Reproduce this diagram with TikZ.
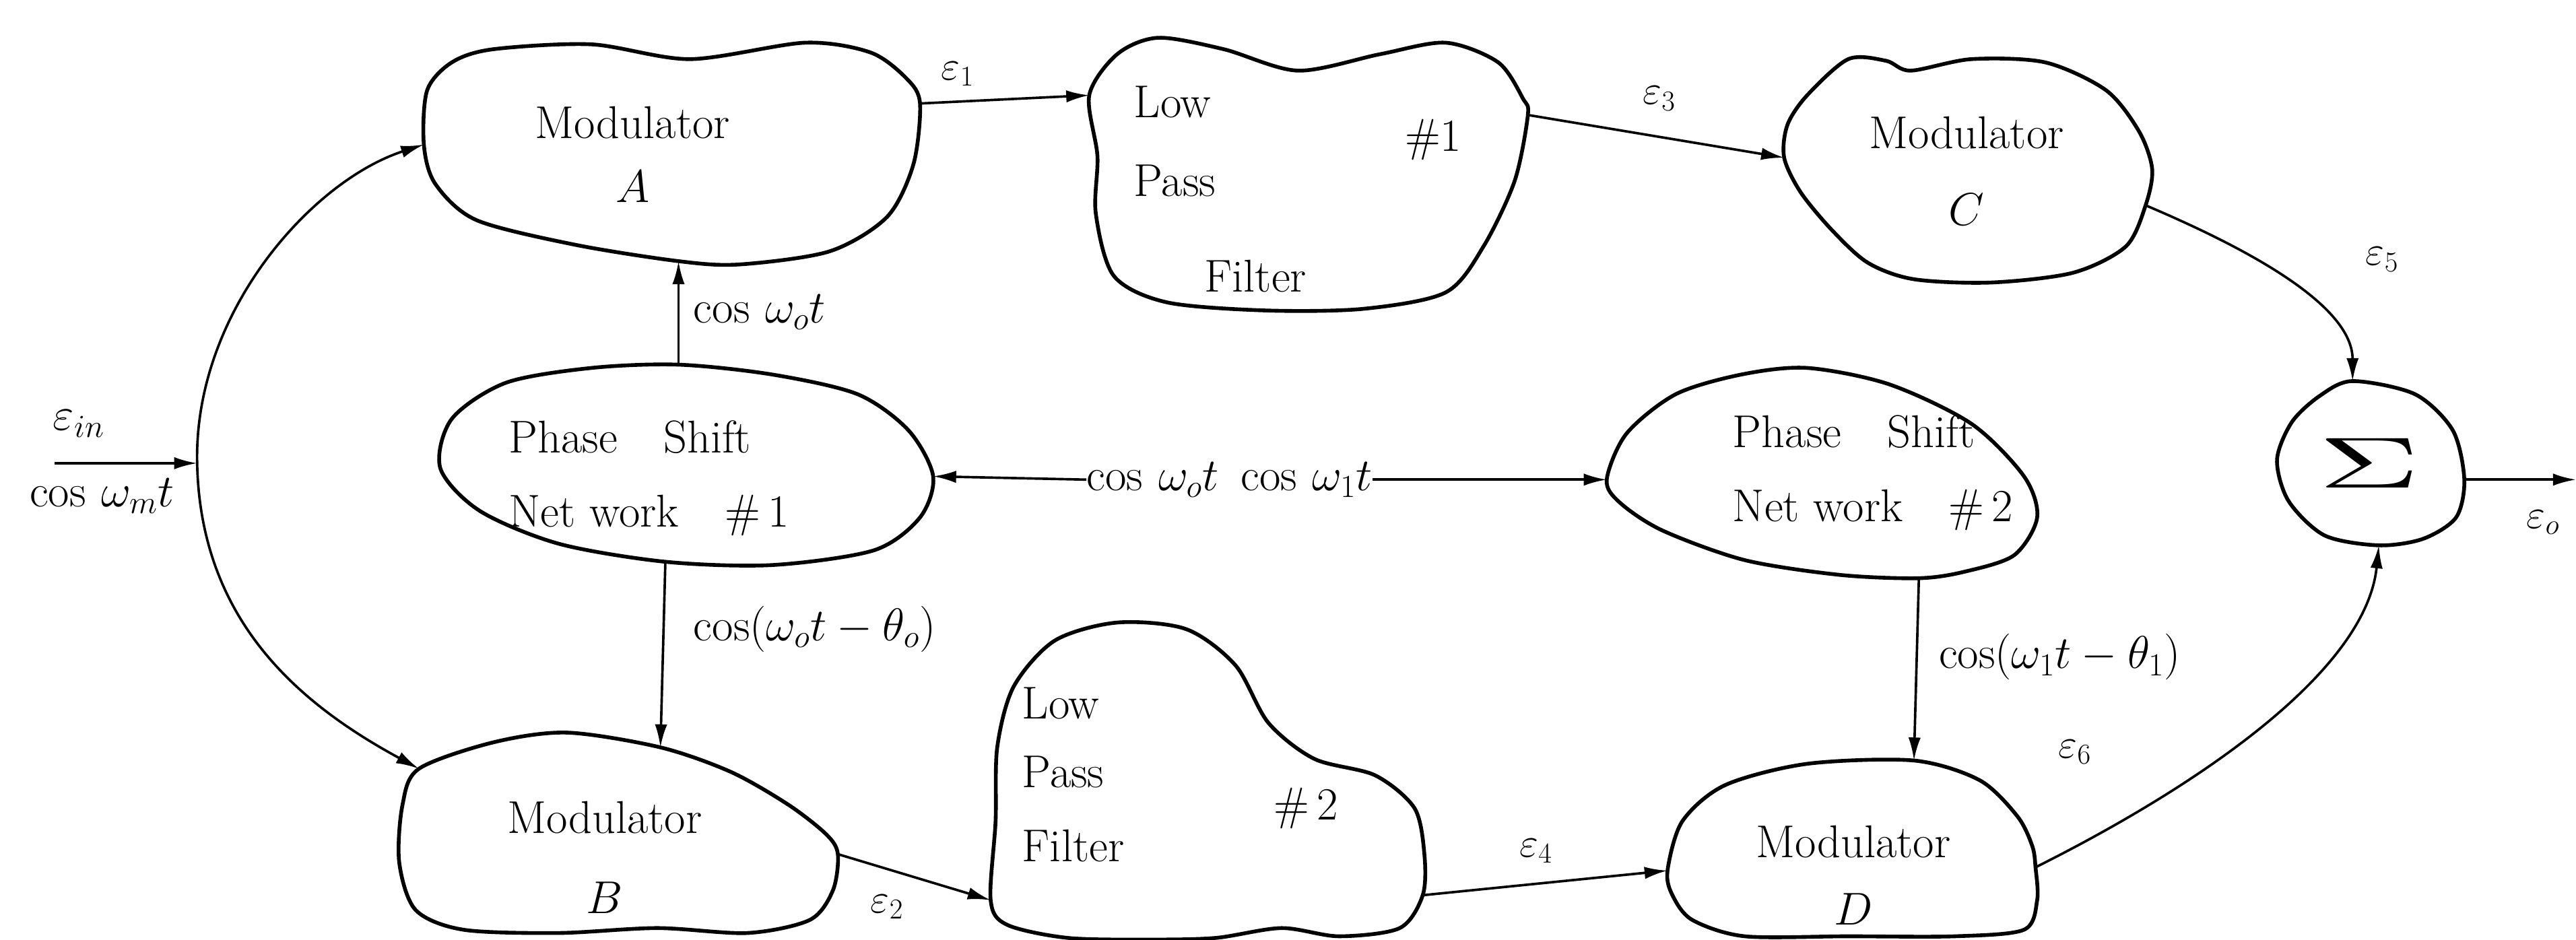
\RequirePackage{fix-cm}
\documentclass[tikz,border=0pt]{standalone}
\usepackage{graphicx}
\usepackage{fontspec}
\usetikzlibrary{arrows.meta}
\begin{document}
\begin{tikzpicture}[x=1pt,y=-1pt,
  blob/.style={line width=2.3pt, line join=round},
  conn/.style={line width=1.5pt, -{Latex[length=14pt,width=7.5pt]}},
  bt/.style={font=\fontsize{28}{37}\selectfont, inner sep=0pt},
  ml/.style={font=\fontsize{28}{32}\selectfont, inner sep=0pt},
  el/.style={font=\fontsize{25}{28}\selectfont, inner sep=0pt}]
\useasboundingbox (0,0) rectangle (1568,572);

% connection points
\coordinate (Aw) at (258,88);   \coordinate (Ae) at (560,63);   \coordinate (As) at (413,159);
\coordinate (LP1w) at (663,58); \coordinate (LP1e) at (930,70);
\coordinate (Cw) at (1086,96);  \coordinate (Ce) at (1306,125);
\coordinate (Sn) at (1432,232); \coordinate (Se) at (1500,292); \coordinate (Ss) at (1448,332);
\coordinate (PS1n) at (413,222); \coordinate (PS1e) at (568,290); \coordinate (PS1s) at (405,342);
\coordinate (PS2w) at (978,292); \coordinate (PS2s) at (1168,352);
\coordinate (Bw) at (255,468);  \coordinate (Bn) at (402,455);  \coordinate (Be) at (510,520);
\coordinate (LP2w) at (603,548); \coordinate (LP2e) at (866,545);
\coordinate (Dw) at (1015,530); \coordinate (Dn) at (1165,463); \coordinate (De) at (1239,528);
\coordinate (inS) at (33,282);  \coordinate (J) at (120,282);
\coordinate (outE) at (1568,292);

% blobs
\draw[blob] plot[smooth cycle] coordinates {(300,30) (360,27) (420,36) (490,26) (530,32) (552,48) (560,63) (556,100) (540,132) (505,153) (450,161) (413,159) (350,149) (290,134) (265,112) (258,88) (260,55) (275,38)};
\draw[blob] plot[smooth cycle] coordinates {(680,33) (705,23) (745,30) (790,43) (840,33) (880,26) (912,38) (927,60) (930,70) (922,110) (903,150) (880,178) (830,188) (770,189) (710,184) (678,168) (667,130) (668,95) (663,58)};
\draw[blob] plot[smooth cycle] coordinates {(1100,58) (1125,36) (1148,37) (1163,43) (1200,36) (1245,38) (1282,55) (1302,80) (1310,103) (1306,125) (1294,150) (1262,166) (1212,172) (1165,170) (1137,160) (1115,140) (1096,117) (1086,96) (1088,76)};
\draw[blob] plot[smooth cycle] coordinates {(1432,232) (1470,240) (1493,262) (1500,292) (1495,315) (1475,328) (1448,332) (1415,326) (1393,305) (1386,280) (1395,257) (1412,241)};
\draw[blob] plot[smooth cycle] coordinates {(413,222) (470,228) (522,240) (553,262) (568,290) (560,315) (532,335) (470,344) (405,342) (340,331) (292,311) (268,285) (275,255) (308,233) (360,224)};
\draw[blob] plot[smooth cycle] coordinates {(1100,224) (1150,234) (1200,258) (1232,290) (1240,315) (1226,338) (1196,348) (1168,352) (1120,350) (1062,341) (1012,323) (986,306) (978,292) (990,264) (1020,240) (1060,228)};
\draw[blob] plot[smooth cycle] coordinates {(255,468) (300,452) (345,446) (402,455) (445,470) (480,490) (503,508) (510,520) (507,542) (493,560) (455,568) (400,565) (340,568) (282,566) (253,554) (243,525) (245,490)};
\draw[blob] plot[smooth cycle] coordinates {(603,548) (606,500) (607,455) (617,418) (642,390) (680,379) (722,383) (752,405) (772,440) (800,462) (837,472) (861,492) (867,520) (866,545) (852,565) (815,570) (780,565) (740,571) (700,572) (650,571) (613,563)};
\draw[blob] plot[smooth cycle] coordinates {(1165,463) (1205,475) (1228,497) (1237,515) (1239,528) (1240,548) (1232,566) (1190,570) (1125,570) (1062,570) (1030,560) (1018,545) (1015,530) (1024,500) (1050,478) (1100,465)};

% block texts
\node[bt, align=center] (A) at (385,94) {Modulator\\[2pt]$A$};
\node[bt, align=center] (C) at (1197,104) {Modulator\\[10pt]$C$};
\node[bt, align=center] (B) at (368,522) {Modulator\\[12pt]$B$};
\node[bt, align=center] (D) at (1128,533) {Modulator\\[4pt]$D$};
\node[bt, align=left] (PS1) at (395,291) {Phase\quad Shift\\[8pt]Net work\quad\#\,1};
\node[bt, align=left] (PS2) at (1140,288) {Phase\quad Shift\\[8pt]Net work\quad\#\,2};
\node[bt, anchor=west] (LP1a) at (690,62) {Low};
\node[bt, anchor=west] (LP1b) at (690,110) {Pass};
\node[bt, anchor=west] (LP1c) at (733,168) {Filter};
\node[bt, anchor=west] (LP1d) at (855,85) {\#1};
\node[bt, anchor=west] (LP2a) at (622,428) {Low};
\node[bt, anchor=west] (LP2b) at (622,470) {Pass};
\node[bt, anchor=west] (LP2c) at (622,515) {Filter};
\node[bt, anchor=west] (LP2d) at (775,492) {\#\,2};
\node (SUM) at (1442,282) {\resizebox{62pt}{30pt}{$\Sigma$}};

% signal labels
\node[ml] (lin1) at (48,258) {$\varepsilon_{in}$};
\node[ml] (lin2) at (62,302) {$\cos\,\omega_m t$};
\node[ml, anchor=west] (lcA) at (422,190) {$\cos\,\omega_o t$};
\node[ml, anchor=east] (lcm1) at (742,292) {$\cos\,\omega_o t$};
\node[ml, anchor=west] (lcm2) at (755,292) {$\cos\,\omega_1 t$};
\node[ml, anchor=west] (lcB) at (422,383) {$\cos(\omega_o t-\theta_o)$};
\node[ml, anchor=west] (lcD) at (1180,400) {$\cos(\omega_1 t-\theta_1)$};
\node[el] (e1) at (583,45) {$\varepsilon_1$};
\node[el] (e3) at (1010,60) {$\varepsilon_3$};
\node[el] (e5) at (1450,158) {$\varepsilon_5$};
\node[el] (e2) at (540,552) {$\varepsilon_2$};
\node[el] (e4) at (935,518) {$\varepsilon_4$};
\node[el] (e6) at (1263,458) {$\varepsilon_6$};
\node[el] (eo) at (1548,318) {$\varepsilon_o$};

% connectors
\draw[conn] (inS) -- (J);
\draw[conn] (J) .. controls (118,190) and (190,110) .. (Aw);
\draw[conn] (J) .. controls (122,380) and (185,430) .. (Bw);
\draw[conn] (Ae) -- (LP1w);
\draw[conn] (LP1e) -- (Cw);
\draw[conn] (Be) -- (LP2w);
\draw[conn] (LP2e) -- (Dw);
\draw[conn] (PS1n) -- (As);
\draw[conn] (PS1s) -- (Bn);
\draw[conn] (PS2s) -- (Dn);
\draw[conn] (lcm1.west) -- (PS1e);
\draw[conn] (lcm2.east) -- (PS2w);
\draw[conn] (Ce) .. controls (1365,150) and (1432,185) .. (Sn);
\draw[conn] (De) .. controls (1335,480) and (1440,410) .. (Ss);
\draw[conn] (Se) -- (outE);
\end{tikzpicture}
\end{document}
